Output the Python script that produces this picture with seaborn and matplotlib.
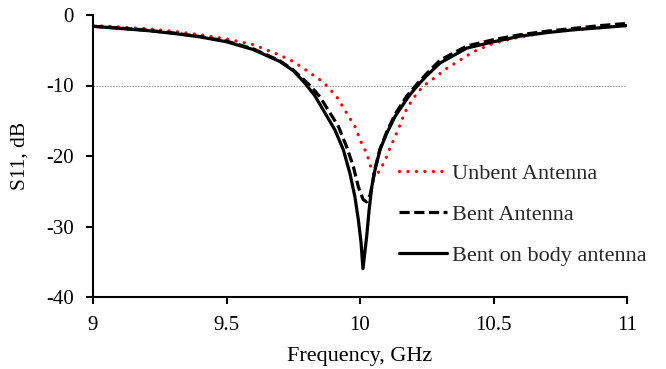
import pandas as pd
import seaborn as sns
import matplotlib.pyplot as plt

# unbent antenna (red dotted)
f_unbent = [9.0, 9.1, 9.2, 9.3, 9.4, 9.5, 9.6, 9.7, 9.75, 9.79, 9.85, 9.875, 9.913, 9.95,
            9.981, 10.006, 10.025, 10.044, 10.058, 10.075, 10.094, 10.112, 10.131, 10.15, 10.162,
            10.175, 10.2, 10.218, 10.24, 10.287, 10.324, 10.375, 10.425, 10.5, 10.6, 10.7, 10.8,
            10.9, 11.0]
s_unbent = [-1.5, -1.7, -1.95, -2.3, -2.8, -3.4, -4.2, -5.7, -6.6, -7.6, -9.2, -10.0, -11.6, -13.9,
            -15.8, -18.2, -19.6, -22.0, -22.9, -22.0, -20.6, -18.9, -17.3, -15.6, -14.4,
            -13.3, -11.8, -10.9, -10.0, -8.7, -7.6, -6.4, -5.2, -4.0, -3.1, -2.5, -2.1,
            -1.8, -1.5]

# bent antenna (black dashed)
f_bent = [9.0, 9.1, 9.2, 9.3, 9.4, 9.5, 9.6, 9.7, 9.75, 9.813, 9.85, 9.881, 9.919, 9.95, 9.975,
          9.994, 10.012, 10.025, 10.031, 10.038, 10.044, 10.056, 10.075, 10.1, 10.131, 10.175,
          10.218, 10.25, 10.3, 10.4, 10.5, 10.6, 10.7, 10.8, 10.9, 11.0]
s_bent = [-1.6, -1.85, -2.15, -2.55, -3.05, -3.7, -4.8, -6.5, -7.8, -10.0, -11.6, -13.5, -15.8, -18.7, -21.5,
          -24.4, -26.2, -26.5, -26.0, -25.5, -24.4, -21.8, -19.0, -16.6, -14.1, -11.5,
          -9.6, -8.3, -6.4, -4.4, -3.5, -2.8, -2.3, -1.9, -1.5, -1.2]

# bent on body (black solid)
f_body = [9.0, 9.1, 9.2, 9.3, 9.4, 9.5, 9.6, 9.7, 9.75, 9.79, 9.83, 9.869, 9.906, 9.9375, 9.9625,
          9.981, 9.994, 10.004, 10.011, 10.025, 10.034, 10.044, 10.056, 10.075, 10.1, 10.131,
          10.156, 10.185, 10.218, 10.25, 10.3, 10.4, 10.5, 10.6, 10.7, 10.8, 10.9, 11.0]
s_body = [-1.6, -1.9, -2.2, -2.6, -3.1, -3.8, -4.9, -6.6, -7.9, -9.5, -11.4, -13.9, -16.3, -19.1, -22.5,
          -25.8, -29.1, -32.3, -36.0, -31.4, -27.7, -24.4, -22.0, -19.1, -16.8, -14.4,
          -13.0, -11.4, -9.9, -8.6, -6.8, -4.7, -3.8, -3.0, -2.5, -2.1, -1.8, -1.5]

labels = ['Unbent Antenna', 'Bent Antenna', 'Bent on body antenna']
x_ticks = [9, 9.5, 10, 10.5, 11]
x_tick_labels = ['9', '9.5', '10', '10.5', '11']
y_ticks = [0, -10, -20, -30, -40]

sns.set_theme(style='ticks')
plt.rcParams['font.family'] = ['Liberation Serif', 'DejaVu Serif']
plt.rcParams['axes.unicode_minus'] = False

fig = plt.figure(figsize=(6.66, 3.69), dpi=100)
ax = fig.add_axes([93/666, 1 - 297/369, 534/666, 282/369])

# -10 dB reference line
ax.axhline(-10, color='#a6a6a6', lw=0.8, ls=(0, (1.5, 1.0)), zorder=1)

sns.lineplot(x=f_body, y=s_body, ax=ax, color='black', lw=2.3, label=labels[2], zorder=3)
sns.lineplot(x=f_bent, y=s_bent, ax=ax, color='black', lw=2.3, linestyle=(0, (3.2, 1.4)),
             label=labels[1], zorder=4)
sns.lineplot(x=f_unbent, y=s_unbent, ax=ax, color='#ff0000', lw=2.3,
             linestyle=(0, (0.05, 2.6)), dash_capstyle='round', label=labels[0], zorder=2)

ax.set_xlim(9, 11)
ax.set_ylim(-40, 0)
ax.set_xticks(x_ticks)
ax.set_xticklabels(x_tick_labels)
ax.set_yticks(y_ticks)
ax.set_yticklabels([str(v) for v in y_ticks])
ax.tick_params(axis='both', direction='out', length=5, width=1.5, color='black',
               labelsize=15, labelcolor='black', pad=9)
for side in ['top', 'right']:
    ax.spines[side].set_visible(False)
for side in ['left', 'bottom']:
    ax.spines[side].set_color('black')
    ax.spines[side].set_linewidth(1.5)

ax.set_xlabel('Frequency, GHz', fontsize=16, color='black', labelpad=8)
ax.set_ylabel('S11, dB', fontsize=15.5, color='black', labelpad=12)

h, l = ax.get_legend_handles_labels()
order = [l.index(t) for t in labels]
leg = ax.legend([h[i] for i in order], labels, loc='upper left',
                bbox_to_anchor=(399/666, 1 - 163/369), bbox_transform=fig.transFigure,
                frameon=False, fontsize=16, handlelength=2.15, handletextpad=0.22,
                labelspacing=0.92, borderpad=0, borderaxespad=0)

fig.savefig('out.png', dpi=100)
